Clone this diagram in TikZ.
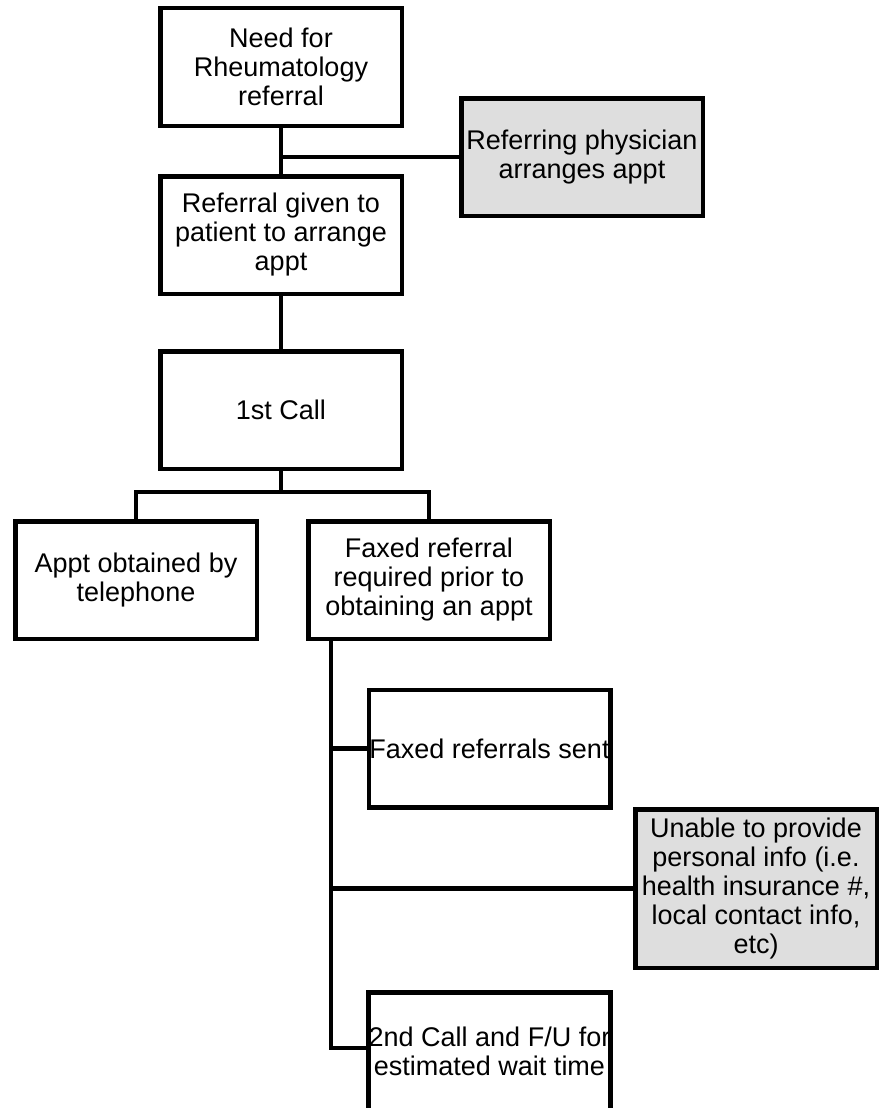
\documentclass[tikz,border=0pt]{standalone}
\usepackage{fontspec}
\setmainfont{Liberation Sans}
\definecolor{boxgrey}{RGB}{222,222,222}
\tikzset{
  flowbox/.style={draw=black, line width=4.5pt, fill=white, minimum width=241.5pt,
    minimum height=117.5pt, inner sep=0pt, align=center,
    font=\fontsize{27}{29}\selectfont},
  greybox/.style={flowbox, fill=boxgrey},
  link/.style={draw=black, line width=4.5pt}
}
\begin{document}
\begin{tikzpicture}[x=1pt,y=-1pt]
\useasboundingbox (0,0) rectangle (880,1108);
\node[flowbox] (need) at (281,67) {Need for\\Rheumatology\\referral};
\node[greybox] (refphys) at (582,157) {Referring physician\\arranges appt};
\node[flowbox] (given) at (281,235) {Referral given to\\patient to arrange\\appt};
\node[flowbox] (call1) at (281,410) {1st Call};
\node[flowbox] (phone) at (136,580) {Appt obtained by\\telephone};
\node[flowbox] (faxreq) at (429,580) {Faxed referral\\required prior to\\obtaining an appt};
\node[flowbox] (faxsent) at (489.5,748.5) {Faxed referrals sent};
\node[greybox, minimum height=158.5pt] (unable) at (756,888.5) {Unable to provide\\personal info (i.e.\\health insurance \#,\\local contact info,\\etc)};
\node[flowbox] (call2) at (489.5,1051) {2nd Call and F/U for\\estimated wait time};

\coordinate (j1) at (281,157);
\coordinate (spinetop) at (331,641);
\coordinate (s1) at (331,748.5);
\coordinate (s2) at (331,888.5);
\coordinate (s3) at (331,1048);

\draw[link] (need.south) -- (given.north);
\draw[link] (j1) -- (refphys.west);
\draw[link] (given.south) -- (call1.north);
\draw[link] (call1.south) -- ++(0,21) -| (phone.north);
\draw[link] (call1.south) -- ++(0,21) -| (faxreq.north);
\draw[link] (spinetop) -- (s3) -- (call2.west |- s3);
\draw[link] (s1) -- (faxsent.west);
\draw[link] (s2) -- (unable.west);
\end{tikzpicture}
\end{document}
